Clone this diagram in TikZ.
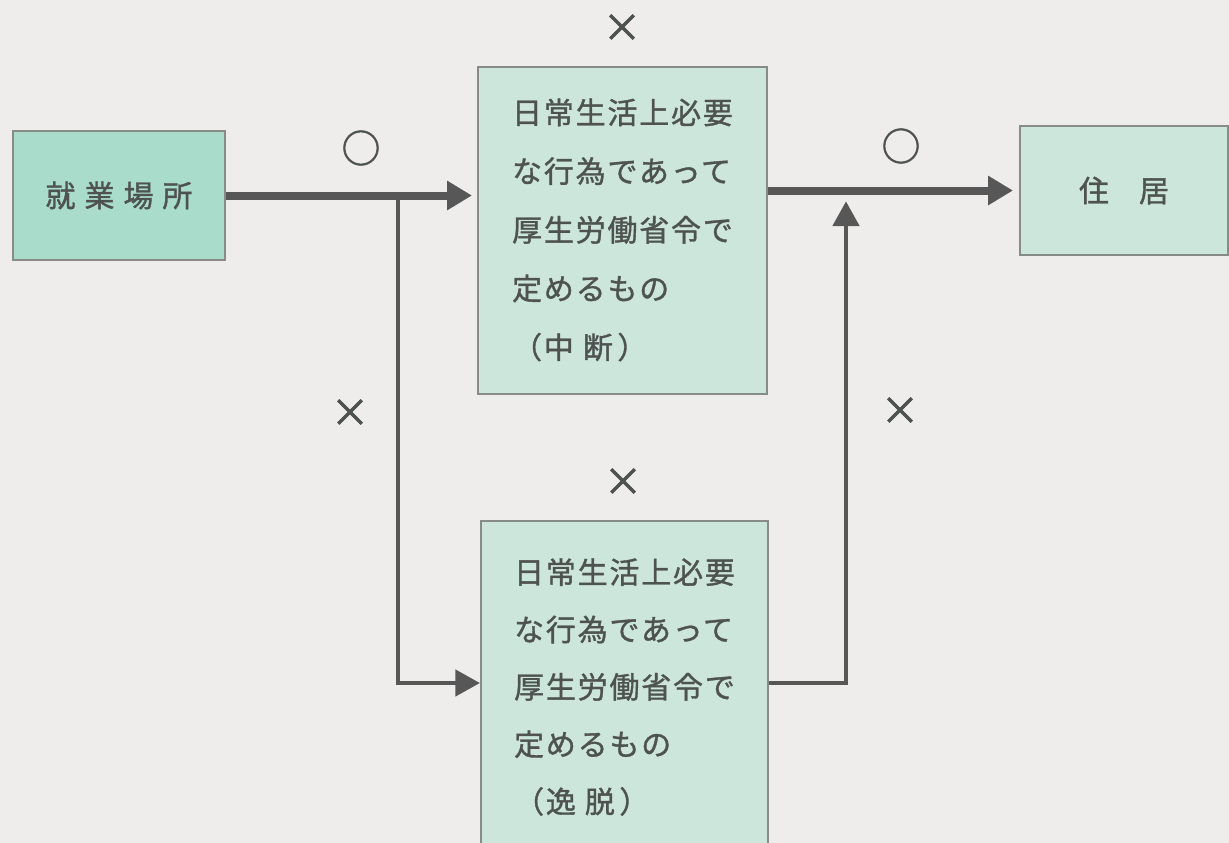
\documentclass[tikz,border=0pt]{standalone}
\usepackage{fontspec}
\newfontfamily\jp[LetterSpace=6,FakeBold=1.2]{Noto Sans CJK JP}
\newfontfamily\jpplain[FakeBold=1.2]{Noto Sans CJK JP}
\newfontfamily\jpmark[FakeBold=1.8]{Noto Sans CJK JP}
\usetikzlibrary{arrows.meta}
\definecolor{bg}{HTML}{EFECEC}
\definecolor{boxA}{HTML}{AADCCC}
\definecolor{boxB}{HTML}{CDE6DC}
\definecolor{edgec}{HTML}{878C89}
\definecolor{ink}{HTML}{4E5351}
\definecolor{linec}{HTML}{575757}
\begin{document}
\begin{tikzpicture}[x=0.75pt,y=-0.75pt,
  boxbase/.style={draw=edgec, line width=1.5pt, text=ink, inner sep=0pt},
  smallbox/.style={boxbase, fill=boxA, font=\jpplain\fontsize{22.5pt}{26pt}\selectfont},
  homebox/.style={boxbase, fill=boxB, font=\jpplain\fontsize{22.5pt}{26pt}\selectfont},
  bigbox/.style={boxbase, fill=boxB, align=left},
  mainarrow/.style={draw=linec, line width=6pt, -{Triangle[length=18.75pt,width=21pt]}},
  thinarrow/.style={draw=linec, line width=3.4pt, -{Triangle[length=18.5pt,width=19.5pt]}},
  lab/.style={text=ink, inner sep=0pt, font=\jpmark\fontsize{29pt}{31pt}\selectfont}
]
\useasboundingbox (0,0) rectangle (1229,843);
\fill[bg] (0,0) rectangle (1229,843);
\clip (0,0) rectangle (1229,843);

\node[smallbox, minimum width=212*0.75pt, minimum height=129*0.75pt] (work) at (119,195.5)
  {就\hspace{0.3em}業\hspace{0.3em}場\hspace{0.3em}所};
\node[bigbox, minimum width=289*0.75pt, minimum height=327*0.75pt,
  font=\jp\fontsize{22.5pt}{44pt}\selectfont] (stop) at (622.5,230)
  {日常生活上必要\\な行為であって\\厚生労働省令で\\定めるもの\\（中\hspace{0.3em}断\hspace{0.15em}）};
\node[homebox, minimum width=208*0.75pt, minimum height=129*0.75pt] (home) at (1124,190.5)
  {住\hspace{1em}居};
\node[bigbox, minimum width=287*0.75pt, minimum height=332*0.75pt,
  font=\jp\fontsize{22.5pt}{43pt}\selectfont] (dev) at (624.5,687)
  {日常生活上必要\\な行為であって\\厚生労働省令で\\定めるもの\\（逸\hspace{0.3em}脱\hspace{0.15em}）};

\coordinate (split) at (398,195.5);
\coordinate (merge) at (846,192);

\draw[mainarrow, shorten >=3.75pt] (work.east) -- (work.east -| stop.west);
\draw[mainarrow, shorten >=4.5pt] (home.west -| stop.east) -- (home.west);
\draw[thinarrow] (split) |- ([yshift=3pt]dev.west);
\draw[thinarrow, shorten >=7pt] ([yshift=3pt]dev.east) -| (merge);

\node[lab] (ok1) at (361,148) {○};
\node[lab] (ok2) at (901,146) {○};
\node[lab] (ng1) at (622,28) {×};
\node[lab] (ng2) at (350,413) {×};
\node[lab] (ng3) at (900,411) {×};
\node[lab] (ng4) at (623,482) {×};
\end{tikzpicture}
\end{document}
